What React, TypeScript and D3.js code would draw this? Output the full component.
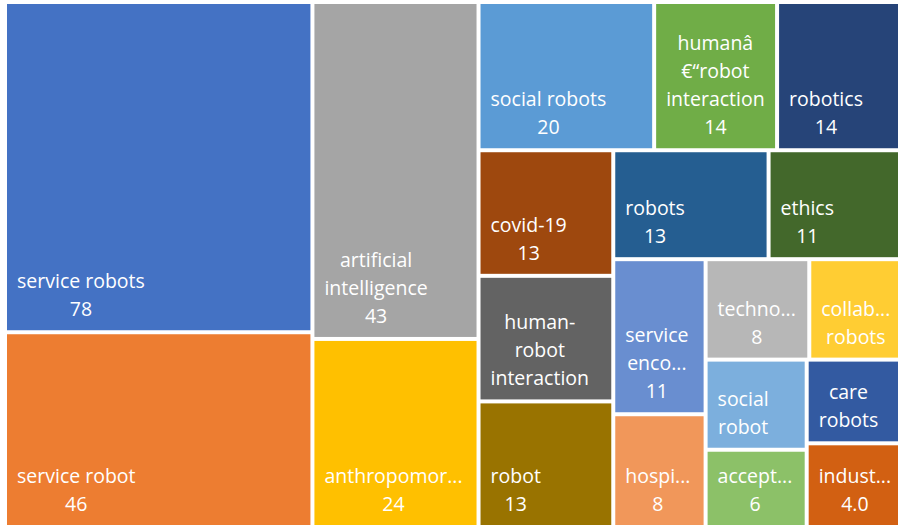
import React, { useEffect, useRef } from "react";
import * as d3 from "d3";

// Keyword names (as shown, pre-wrapped lines separated by "|")
const categories = [
  "service robots",
  "service robot",
  "artificial|intelligence",
  "anthropomor...",
  "social robots",
  "humanâ|€“robot|interaction",
  "robotics",
  "covid-19",
  "human-|robot|interaction",
  "robot",
  "robots",
  "ethics",
  "service|enco...",
  "hospi...",
  "techno...",
  "collab...|robots",
  "social|robot",
  "accept...",
  "care|robots",
  "indust...|4.0",
];

// Occurrence counts
const values = [78, 46, 43, 24, 20, 14, 14, 13, 13, 13, 13, 11, 11, 8, 8, 7, 7, 6, 6, 6];

// Whether Excel managed to show the value under the name
const valueShown = [
  true, true, true, true, true, true, true, true, false, true,
  true, true, true, true, true, false, false, true, false, false,
];

const colors = [
  "#4472C4", "#ED7D31", "#A5A5A5", "#FFC000", "#5B9BD5", "#70AD47", "#264478",
  "#9E480E", "#636363", "#997300", "#255E91", "#43682B", "#698ED0", "#F1975A",
  "#B7B7B7", "#FFCD33", "#7CAFDD", "#8CC168", "#335AA1", "#D26012",
];

const W = 898;
const H = 525;

// Excel-like squarified tiling: keep adding items to a strip while the
// aspect of the newly added item does not get worse.
function excelTile(parent: any, x0: number, y0: number, x1: number, y1: number) {
  const nodes = parent.children;
  let value = parent.value;
  let i0 = 0;
  while (i0 < nodes.length) {
    const dx = x1 - x0;
    const dy = y1 - y0;
    const rowOnTop = dx < dy;
    const L = rowOnTop ? dx : dy;
    const Wl = rowOnTop ? dy : dx;
    const aspect = (v: number, s: number) => {
      const t = (s / value) * Wl;
      const l = (v / s) * L;
      return Math.max(t / l, l / t);
    };
    let i1 = i0 + 1;
    let sum = nodes[i0].value;
    let last = aspect(nodes[i0].value, sum);
    while (i1 < nodes.length) {
      const ns = sum + nodes[i1].value;
      const a = aspect(nodes[i1].value, ns);
      if (a > last) break;
      sum = ns;
      last = a;
      i1++;
    }
    const row: any = { value: sum, children: nodes.slice(i0, i1) };
    if (rowOnTop) {
      const y = y0 + (dy * sum) / value;
      d3.treemapDice(row, x0, y0, x1, y);
      y0 = y;
    } else {
      const x = x0 + (dx * sum) / value;
      d3.treemapSlice(row, x0, y0, x, y1);
      x0 = x;
    }
    value -= sum;
    i0 = i1;
  }
}

export default function App() {
  const ref = useRef<SVGSVGElement | null>(null);

  useEffect(() => {
    const svg = d3.select(ref.current);
    svg.selectAll("*").remove();

    const data = categories.map((c, i) => ({
      name: c,
      value: values[i],
      color: colors[i],
      show: valueShown[i],
    }));

    const root = d3
      .hierarchy<any>({ children: data })
      .sum((d: any) => d.value || 0);

    d3
      .treemap<any>()
      .tile(excelTile as any)
      .size([W - 7, H - 4])
      .paddingInner(4)(root);

    const g = svg.append("g").attr("transform", "translate(7,4)");

    const leaves = root.leaves() as any[];
    const cell = g
      .selectAll("g.cell")
      .data(leaves)
      .join("g")
      .attr("class", "cell");

    cell
      .append("rect")
      .attr("x", (d) => d.x0)
      .attr("y", (d) => d.y0)
      .attr("width", (d) => d.x1 - d.x0)
      .attr("height", (d) => d.y1 - d.y0)
      .attr("fill", (d) => d.data.color);

    const lineH = 28;
    cell.each(function (d: any) {
      const sel = d3.select(this);
      const lines: string[] = d.data.name.split("|");
      if (d.data.show) lines.push(String(d.data.value));
      const texts = lines.map((t) =>
        sel
          .append("text")
          .attr("fill", "#ffffff")
          .attr("font-family", "'Open Sans', sans-serif")
          .attr("font-size", 19.5)
          .attr("text-anchor", "middle")
          .text(t)
      );
      const widths = texts.map((t) => (t.node() as SVGTextElement).getComputedTextLength());
      const bw = Math.max(...widths);
      const cx = d.x0 + 10 + bw / 2;
      const n = lines.length;
      texts.forEach((t, i) => {
        t.attr("x", cx).attr("y", d.y1 - 14 - (n - 1 - i) * lineH);
      });
    });
  }, []);

  return (
    <svg
      ref={ref}
      width={W}
      height={H}
      style={{ position: "absolute", left: 0, top: 0, background: "#ffffff" }}
    />
  );
}
